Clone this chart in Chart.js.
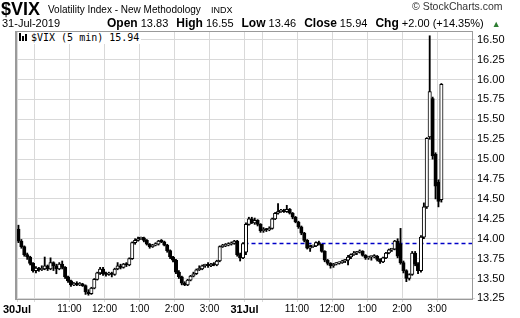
<!DOCTYPE html>
<html>
<head>
<meta charset="utf-8">
<script src="https://cdn.jsdelivr.net/npm/chart.js@4.4.1/dist/chart.umd.min.js"></script>
<style>
  body { margin: 0; background: #fff; font-family: "Liberation Sans", Arial, sans-serif; }
  #wrap { position: relative; width: 520px; height: 318px; }
  canvas { position: absolute; left: 0; top: 0; }
  .t { position: absolute; white-space: nowrap; color: #000; font-size: 11px; line-height: 1; }
  .t b { font-weight: bold; font-size: 12px; }
  .g { margin-right: 8px; }
  .ico { display: inline-block; width: 9px; height: 8px; position: relative; margin-right: 3px; }
  .ico i { position: absolute; bottom: 0; width: 2px; background: #000; }
</style>
</head>
<body>
<div id="wrap">
  <canvas id="chart" width="520" height="318"></canvas>
  <div class="t" style="left:1px;top:0px;font-size:18px;font-weight:bold">$VIX</div>
  <div class="t" style="left:48px;top:5px;font-size:10px">Volatility Index - New Methodology</div>
  <div class="t" style="left:211px;top:6px;font-size:9px">INDX</div>
  <div class="t" style="left:412px;top:1px;color:#333;font-size:10.5px">&copy; StockCharts.com</div>
  <div class="t" style="left:2px;top:18px">31-Jul-2019</div>
  <div class="t" style="left:107px;top:17px"><span class="g"><b>Open</b> 13.83</span><span class="g"><b>High</b> 16.55</span><span class="g"><b>Low</b> 13.46</span><span class="g"><b>Close</b> 15.94</span><span class="g"><b>Chg</b> +2.00 (+14.35%)</span><span style="color:#2e7d32;font-size:9px">&#9650;</span></div>
  <div class="t" style="left:18px;top:32px;background:#fff;padding:1px 2px 1px 1px;font-family:'DejaVu Sans Mono',monospace;font-size:10px">
    <span class="ico"><i style="left:0;height:8px"></i><i style="left:3px;height:5px"></i><i style="left:6px;height:7px"></i></span>$VIX (5 min) 15.94</div>
</div>
<script>
// 5-minute bars, 30 Jul (78 bars) then 31 Jul (68 bars)
let opens = [
  14.12,13.97,13.90,13.80,13.77,13.69,13.60,13.63,13.61,13.62,13.66,13.62,13.70,13.66,13.62,13.68,13.64,13.52,13.47,13.42,
  13.44,13.42,13.43,13.41,13.33,13.31,13.38,13.49,13.57,13.62,13.56,13.55,13.56,13.55,13.62,13.66,13.64,13.68,13.67,13.75,
  13.95,13.98,14.00,14.01,13.98,13.93,13.90,13.92,13.93,13.97,13.96,13.92,13.85,13.77,13.73,13.58,13.52,13.44,13.42,13.48,
  13.53,13.56,13.61,13.62,13.66,13.67,13.66,13.68,13.67,13.72,13.90,13.91,13.92,13.93,13.94,13.97,13.80,13.76,
  13.83,14.18,14.25,14.20,14.23,14.18,14.10,14.12,14.11,14.13,14.25,14.32,14.34,14.35,14.34,14.37,14.32,14.27,14.21,14.15,
  14.07,13.98,13.88,13.90,13.91,13.95,13.93,13.84,13.73,13.69,13.66,13.68,13.69,13.70,13.72,13.73,13.77,13.80,13.82,13.83,
  13.84,13.79,13.76,13.77,13.77,13.78,13.74,13.71,13.76,13.82,13.86,13.87,13.97,13.93,13.70,13.60,13.50,13.55,13.82,13.68,
  13.60,14.02,14.40,15.28,15.76,15.06,14.71,14.49
];
let highs = [
  14.17,13.99,13.91,13.82,13.78,13.70,13.65,13.64,13.66,13.77,13.67,13.76,13.71,13.68,13.70,13.72,13.65,13.53,13.48,13.45,
  13.46,13.45,13.44,13.42,13.36,13.39,13.50,13.58,13.64,13.64,13.58,13.58,13.58,13.63,13.70,13.68,13.69,13.70,13.76,13.96,
  14.00,14.02,14.02,14.02,13.99,13.94,13.93,13.95,13.98,13.99,13.97,13.93,13.86,13.78,13.74,13.60,13.53,13.46,13.49,13.54,
  13.58,13.62,13.66,13.67,13.68,13.70,13.69,13.70,13.73,13.91,13.93,13.94,13.95,13.96,13.98,13.98,13.82,13.95,
  14.20,14.27,14.27,14.26,14.24,14.19,14.14,14.13,14.15,14.26,14.33,14.44,14.37,14.37,14.42,14.38,14.33,14.28,14.22,14.16,
  14.08,13.99,13.92,13.92,13.96,13.97,13.93,13.85,13.74,13.70,13.69,13.70,13.71,13.73,13.74,13.79,13.81,13.84,13.84,13.86,
  13.85,13.80,13.78,13.78,13.80,13.79,13.75,13.77,13.83,13.87,13.88,13.98,14.00,14.13,13.72,13.61,13.56,13.84,13.84,13.70,
  14.04,14.45,15.27,16.55,15.78,15.08,14.74,15.95
];
let lows = [
  13.95,13.88,13.78,13.74,13.67,13.58,13.57,13.59,13.60,13.61,13.60,13.61,13.60,13.56,13.61,13.62,13.50,13.45,13.40,13.41,
  13.41,13.41,13.40,13.30,13.29,13.30,13.37,13.48,13.55,13.54,13.53,13.54,13.52,13.54,13.61,13.62,13.63,13.65,13.66,13.74,
  13.93,13.97,13.99,13.96,13.92,13.88,13.89,13.91,13.92,13.95,13.91,13.83,13.75,13.71,13.56,13.50,13.42,13.41,13.41,13.47,
  13.52,13.55,13.60,13.61,13.64,13.64,13.65,13.66,13.66,13.71,13.89,13.90,13.91,13.92,13.93,13.78,13.72,13.75,
  13.80,14.17,14.19,14.18,14.16,14.08,14.08,14.09,14.10,14.12,14.24,14.31,14.33,14.33,14.33,14.31,14.25,14.20,14.13,14.05,
  13.96,13.87,13.84,13.89,13.90,13.92,13.83,13.71,13.67,13.63,13.64,13.67,13.68,13.69,13.70,13.67,13.75,13.79,13.80,13.82,
  13.78,13.74,13.74,13.73,13.76,13.72,13.69,13.70,13.75,13.81,13.84,13.86,13.76,13.68,13.57,13.46,13.48,13.54,13.66,13.56,
  13.58,14.00,14.38,15.25,15.00,14.50,14.40,14.46
];
let closes = [
  13.97,13.90,13.80,13.77,13.69,13.60,13.63,13.61,13.62,13.66,13.62,13.70,13.66,13.62,13.68,13.64,13.52,13.47,13.42,13.44,
  13.42,13.43,13.41,13.33,13.31,13.38,13.49,13.57,13.62,13.56,13.55,13.56,13.55,13.62,13.66,13.64,13.68,13.67,13.75,13.95,
  13.98,14.00,14.01,13.98,13.93,13.90,13.92,13.93,13.97,13.96,13.92,13.85,13.77,13.73,13.58,13.52,13.44,13.42,13.48,13.53,
  13.56,13.61,13.62,13.66,13.67,13.66,13.68,13.67,13.72,13.90,13.91,13.92,13.93,13.94,13.97,13.80,13.76,13.94,
  14.18,14.25,14.20,14.23,14.18,14.10,14.12,14.11,14.13,14.25,14.32,14.34,14.35,14.34,14.37,14.32,14.27,14.21,14.15,14.07,
  13.98,13.88,13.90,13.91,13.95,13.93,13.84,13.73,13.69,13.66,13.68,13.69,13.70,13.72,13.73,13.77,13.80,13.82,13.83,13.84,
  13.79,13.76,13.77,13.77,13.78,13.74,13.71,13.76,13.82,13.86,13.87,13.97,13.78,13.70,13.60,13.50,13.55,13.82,13.68,13.60,
  14.02,14.40,15.26,15.85,15.04,14.66,14.47,15.94
];
let prevClose = 13.94;
let day2Start = 78;      // first bar of 31 Jul
let barsPerDay = 78;

let xTickIndex = [0, 6, 18, 30, 42, 54, 66, 78, 84, 96, 108, 120, 132, 144];
let xTickText  = ['30Jul', '', '11:00', '12:00', '1:00', '2:00', '3:00', '31Jul', '', '11:00', '12:00', '1:00', '2:00', '3:00'];
let yTicks = [13.25, 13.50, 13.75, 14.00, 14.25, 14.50, 14.75, 15.00, 15.25, 15.50, 15.75, 16.00, 16.25, 16.50];

let wicks = lows.map((l, i) => ({ x: i + 0.5, y: [l, highs[i]] }));
let bodies = opens.map((o, i) => ({ x: i + 0.5, y: [o, closes[i]] }));
let bodyFill = opens.map((o, i) => closes[i] >= o ? '#ffffff' : '#000000');

let frame = {
  id: 'frame',
  afterDraw(chart) {
    let a = chart.chartArea, ctx = chart.ctx;
    ctx.save();
    ctx.strokeStyle = '#9a9a9a';
    ctx.lineWidth = 1;
    ctx.strokeRect(Math.round(a.left) - 0.5, Math.round(a.top) + 0.5, Math.round(a.right - a.left) + 1, Math.round(a.bottom - a.top) - 1);
    ctx.fillStyle = '#9a9a9a';
    ctx.fillRect(Math.round(a.left) - 2, Math.round(a.top), 2, Math.round(a.bottom - a.top));
    ctx.restore();
  }
};

new Chart(document.getElementById('chart'), {
  data: {
    datasets: [
      {
        type: 'line',
        data: [{ x: day2Start, y: prevClose }, { x: barsPerDay * 2, y: prevClose }],
        borderColor: '#0000c8',
        borderWidth: 1.5,
        borderDash: [4, 3],
        pointRadius: 0,
        order: 3
      },
      {
        type: 'bar',
        data: wicks,
        backgroundColor: '#000',
        borderWidth: 0,
        barThickness: 1.2,
        grouped: false,
        order: 2
      },
      {
        type: 'bar',
        data: bodies,
        backgroundColor: bodyFill,
        borderColor: '#000',
        borderWidth: 1,
        borderSkipped: false,
        barThickness: 3.4,
        minBarLength: 1.5,
        grouped: false,
        order: 1
      }
    ]
  },
  options: {
    responsive: false,
    animation: false,
    devicePixelRatio: 1,
    layout: { padding: { top: 31, left: 17, right: 0, bottom: 0 } },
    plugins: { legend: { display: false }, tooltip: { enabled: false } },
    scales: {
      x: {
        type: 'linear',
        offset: false,
        min: 0,
        max: barsPerDay * 2,
        afterBuildTicks: (s) => { s.ticks = xTickIndex.map(v => ({ value: v })); },
        afterFit: (s) => { s.height = 18; },
        grid: { color: '#d9d9d9', tickLength: 2, offset: false },
        border: { display: false },
        ticks: {
          autoSkip: false,
          maxRotation: 0,
          padding: 1,
          color: '#000',
          callback: (v) => xTickText[xTickIndex.indexOf(v)],
          font: (ctx) => (ctx.tick && ctx.tick.value % barsPerDay === 0)
            ? { family: 'Liberation Sans', size: 11, weight: 'bold' }
            : { family: 'Liberation Sans', size: 10 }
        }
      },
      y: {
        position: 'right',
        min: 13.23,
        max: 16.61,
        afterBuildTicks: (s) => { s.ticks = yTicks.map(v => ({ value: v })); },
        afterFit: (s) => { s.width = 48; },
        grid: { color: '#d9d9d9', tickLength: 3 },
        border: { display: false },
        ticks: {
          autoSkip: false,
          padding: 2,
          color: '#000',
          font: { family: 'Liberation Sans', size: 11 },
          callback: (v) => v.toFixed(2)
        }
      }
    }
  },
  plugins: [frame]
});
</script>
</body>
</html>
